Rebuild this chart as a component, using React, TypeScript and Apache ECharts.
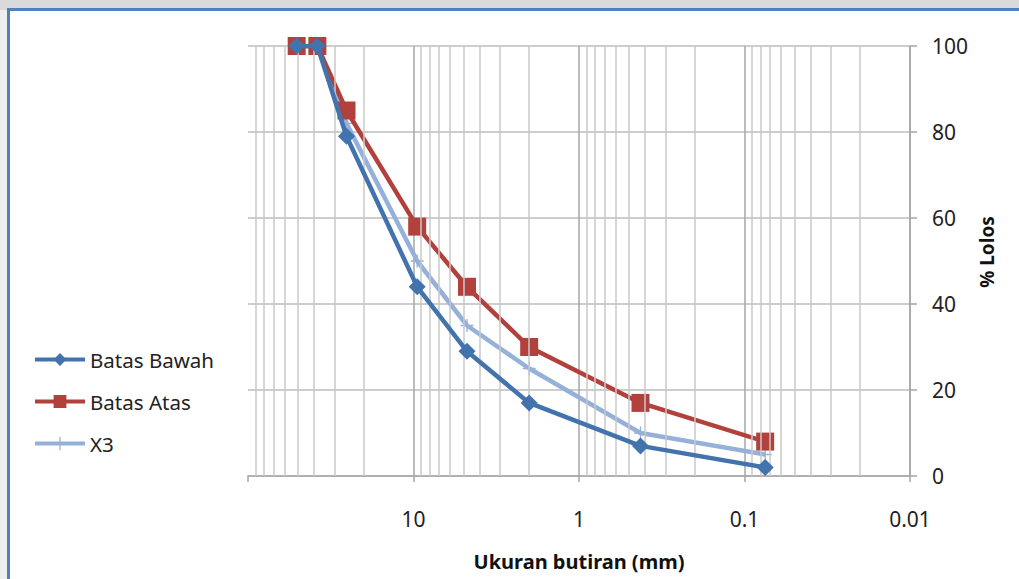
import React, { useEffect, useRef } from "react";
import * as echarts from "echarts";

// Sieve openings (mm) and percent passing for each gradation curve
const sieveSizes = [50.8, 38.1, 25.4, 9.5, 4.75, 2.0, 0.425, 0.075];
const batasBawah = [100, 100, 79, 44, 29, 17, 7, 2];
const batasAtas = [100, 100, 85, 58, 44, 30, 17, 8];
const x3 = [100, 100, 82, 50, 35, 25, 10, 5];

// Minor vertical gridlines of the logarithmic size axis
const minorGrid = [
  90, 80, 70, 60, 50, 40, 30, 20,
  9, 8, 7, 6, 5, 4, 3, 2,
  0.9, 0.8, 0.7, 0.6, 0.5, 0.4, 0.3, 0.2,
  0.09, 0.08, 0.07, 0.06, 0.05, 0.04, 0.03, 0.02,
];

const seriesNames = ["Batas Bawah", "Batas Atas", "X3"];
const FONT = "'Noto Sans', 'Open Sans', sans-serif";

const crossPath = "path://M9,0h2v9h9v2h-9v9h-2v-9h-9v-2h9z";

const pairs = (ys: number[]) => sieveSizes.map((s, i) => [s, ys[i]]);

export default function App() {
  const ref = useRef<HTMLDivElement>(null);

  useEffect(() => {
    if (!ref.current) return;
    const chart = echarts.init(ref.current, undefined, { renderer: "svg" });
    chart.setOption({
      animation: false,
      grid: { left: 248, right: 109, top: 46, bottom: 103, outerBoundsMode: "none" },
      legend: {
        orient: "vertical",
        left: 33,
        top: 349,
        padding: 0,
        itemWidth: 50,
        itemHeight: 16,
        itemGap: 21,
        lineStyle: { width: 4 },
        textStyle: { fontFamily: FONT, fontSize: 20.5, color: "#222" },
        data: seriesNames,
      },
      xAxis: {
        type: "log",
        logBase: 10,
        min: 0.01,
        max: 100,
        inverse: true,
        name: "Ukuran butiran (mm)",
        nameLocation: "middle",
        nameGap: 75,
        nameTextStyle: { fontFamily: FONT, fontSize: 20, fontWeight: "bold", color: "#111" },
        axisLine: { lineStyle: { color: "#a6a6a6", width: 1.5 } },
        axisTick: { show: true, length: 6, lineStyle: { color: "#a6a6a6", width: 1.5 } },
        axisLabel: {
          margin: 32,
          fontFamily: FONT,
          fontSize: 21,
          color: "#222",
          formatter: (v: number) => (v >= 99 ? "" : String(Number(v.toPrecision(3)))),
        },
        splitLine: { show: true, showMaxLine: false, lineStyle: { color: "#a6a6a6", width: 1.5 } },
      },
      yAxis: {
        type: "value",
        position: "right",
        min: 0,
        max: 100,
        interval: 20,
        axisLine: { show: true, lineStyle: { color: "#a6a6a6", width: 1.5 } },
        axisTick: { show: true, length: 7, lineStyle: { color: "#a6a6a6", width: 1.5 } },
        axisLabel: { margin: 22, fontFamily: FONT, fontSize: 21, color: "#222" },
        splitLine: { show: true, lineStyle: { color: "#bcbcbc", width: 1.5 } },
      },
      graphic: [
        {
          type: "text",
          x: 987,
          y: 252,
          rotation: Math.PI / 2,
          style: {
            text: "% Lolos",
            fontFamily: FONT,
            fontSize: 19,
            fontWeight: "bold",
            fill: "#111",
            align: "center",
            verticalAlign: "middle",
          },
        },
      ],
      series: [
        {
          name: "grid-minor",
          type: "line",
          data: [],
          silent: true,
          markLine: {
            silent: true,
            symbol: "none",
            label: { show: false },
            lineStyle: { color: "#c8c8c8", width: 1.5, type: "solid" },
            data: minorGrid.map((v) => ({ xAxis: v })),
          },
          z: 1,
        },
        {
          name: "X3",
          type: "line",
          data: pairs(x3),
          symbol: crossPath,
          symbolSize: 13,
          lineStyle: { color: "#95b1d9", width: 4.5 },
          itemStyle: { color: "#95b1d9" },
          z: 3,
        },
        {
          name: "Batas Atas",
          type: "line",
          data: pairs(batasAtas),
          symbol: "rect",
          symbolSize: 18,
          lineStyle: { color: "#b2403d", width: 4.5 },
          itemStyle: { color: "#b2403d" },
          z: 4,
        },
        {
          name: "Batas Bawah",
          type: "line",
          data: pairs(batasBawah),
          symbol: "diamond",
          symbolSize: 17,
          lineStyle: { color: "#4273ad", width: 4.5 },
          itemStyle: { color: "#4273ad" },
          z: 5,
        },
      ],
    });
    return () => chart.dispose();
  }, []);

  return (
    <div style={{ position: "fixed", left: 0, top: 0, width: 1019, height: 579, background: "#dadada" }}>
      <div style={{ position: "absolute", left: 0, top: 10, width: 8, height: 569, background: "#efefef" }} />
      <div
        style={{
          position: "absolute",
          left: 7,
          top: 8,
          width: 1012,
          height: 571,
          boxSizing: "border-box",
          background: "#ffffff",
          borderLeft: "3px solid #4f81bd",
          borderTop: "3px solid #4f81bd",
        }}
      />
      <div ref={ref} style={{ position: "absolute", left: 0, top: 0, width: 1019, height: 579 }} />
    </div>
  );
}
